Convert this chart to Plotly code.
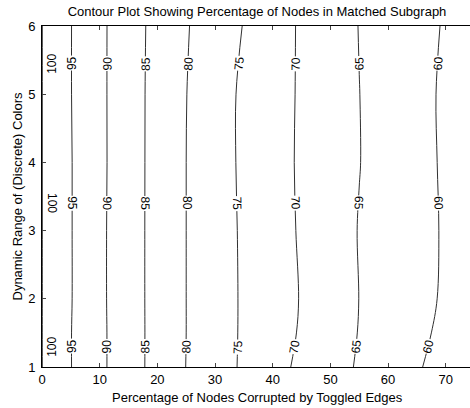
import math
import numpy as np
import plotly.graph_objects as go

# Grid
x_pct = [0, 5, 10, 15, 20, 25, 30, 35, 40, 45, 50, 55, 60, 65, 70, 75]
y_range = [1, 1.5, 2, 3, 4, 5, 6]

z_row_1 = [100.05, 95.10, 90.98, 87.08, 83.40, 79.94, 77.13, 74.34, 71.59, 69.05, 66.77, 64.55, 62.48, 60.41, 58.35, 56.28]
z_row_15 = [100.05, 95.10, 90.98, 87.08, 83.42, 80.00, 77.16, 74.42, 71.99, 69.57, 67.19, 64.84, 62.91, 60.97, 59.03, 57.09]
z_row_2 = [100.05, 95.19, 90.93, 87.05, 83.42, 80.00, 77.16, 74.44, 72.10, 69.76, 67.36, 64.96, 63.13, 61.29, 59.45, 57.61]
z_row_3 = [100.05, 95.19, 90.93, 87.05, 83.42, 80.00, 77.13, 74.37, 71.94, 69.52, 67.14, 64.83, 63.08, 61.33, 59.58, 57.83]
z_row_4 = [100.05, 95.19, 91.00, 87.08, 83.42, 80.00, 77.02, 74.22, 71.76, 69.40, 67.24, 65.09, 63.20, 61.32, 59.44, 57.56]
z_row_5 = [100.05, 95.10, 90.98, 87.08, 83.45, 80.07, 77.05, 74.23, 71.83, 69.47, 67.26, 65.04, 63.14, 61.25, 59.36, 57.46]
z_row_6 = [100.05, 95.10, 90.98, 87.12, 83.57, 80.32, 77.55, 74.84, 72.09, 69.45, 67.16, 64.90, 63.15, 61.40, 59.65, 57.90]

levels = [100, 95, 90, 85, 80, 75, 70, 65, 60]
label_heights = [1.3, 3.4, 5.45]      # where the in-line labels sit
x_ticks = [0, 10, 20, 30, 40, 50, 60, 70]
y_ticks = [1, 2, 3, 4, 5, 6]

z = [z_row_1, z_row_15, z_row_2, z_row_3, z_row_4, z_row_5, z_row_6]

FONT = "Liberation Sans, Arial, sans-serif"
W, H = 470, 408
ML, MR, MT, MB = 42, 0, 26, 41
XR = [0, 74.2]
YR = [1, 6]
PW, PH = W - ML - MR, H - MT - MB
px_per_x = PW / (XR[1] - XR[0])
px_per_y = PH / (YR[1] - YR[0])

fig = go.Figure(go.Contour(
    x=x_pct, y=y_range, z=z,
    contours=dict(start=60, end=100, size=5, coloring="none", showlabels=False),
    line=dict(color="#303030", width=1),
    showscale=False,
    hoverinfo="skip",
))


def crossing(level, yv):
    """x where the data grid (interpolated between rows) equals level at height yv"""
    zr = [np.interp(yv, y_range, [row[j] for row in z]) for j in range(len(x_pct))]
    return float(np.interp(level, zr[::-1], x_pct[::-1]))


annotations = []
for lev in levels:
    for k, yv in enumerate(label_heights):
        xv = crossing(lev, yv)
        xa = crossing(lev, yv - 0.08)
        xb = crossing(lev, yv + 0.08)
        ang = math.degrees(math.atan2(0.16 * px_per_y, (xb - xa) * px_per_x))
        # bottom and top labels read upwards, middle ones downwards
        tangle = -ang if k != 1 else 180 - ang
        annotations.append(dict(
            x=xv, y=yv, xref="x", yref="y", text=str(lev), showarrow=False,
            textangle=tangle, font=dict(family=FONT, size=12, color="black"),
            bgcolor="white", borderpad=0,
            xanchor="left" if lev == 100 else "center", yanchor="middle",
            xshift=1 if lev == 100 else 0,
        ))

annotations.append(dict(
    text="Percentage of Nodes Corrupted by Toggled Edges", xref="paper", yref="paper",
    x=(257 - ML) / PW, y=-(397 - (H - MB)) / PH,
    xanchor="center", yanchor="middle", showarrow=False,
    font=dict(family=FONT, size=13, color="black")))
annotations.append(dict(
    text="Dynamic Range of (Discrete) Colors", xref="paper", yref="paper",
    x=-(ML - 17) / PW, y=0.5, textangle=-90,
    xanchor="center", yanchor="middle", showarrow=False,
    font=dict(family=FONT, size=13, color="black")))

fig.update_layout(
    width=W, height=H,
    margin=dict(l=ML, r=MR, t=MT, b=MB),
    paper_bgcolor="white", plot_bgcolor="white",
    font=dict(family=FONT, size=13, color="black"),
    title=dict(text="Contour Plot Showing Percentage of Nodes in Matched Subgraph",
               x=257 / W, xanchor="center", y=1 - 11 / H, yanchor="middle",
               font=dict(size=13)),
    showlegend=False,
    annotations=annotations,
)
fig.update_xaxes(
    range=XR, tickvals=x_ticks, ticks="inside", ticklen=4,
    showline=True, linecolor="black", linewidth=1, mirror="ticks",
    showgrid=False, zeroline=False, tickfont=dict(size=13),
)
fig.update_yaxes(
    range=YR, tickvals=y_ticks, ticks="inside", ticklen=4,
    showline=True, linecolor="black", linewidth=1, mirror=False,
    showgrid=False, zeroline=False, tickfont=dict(size=13),
    ticklabelstandoff=3,
)

# remove the browser's default 8px page margin so the figure sits at the window corner
fig.write_html("out.html", config={"displayModeBar": False},
               post_script="document.body.style.margin='0px';")
